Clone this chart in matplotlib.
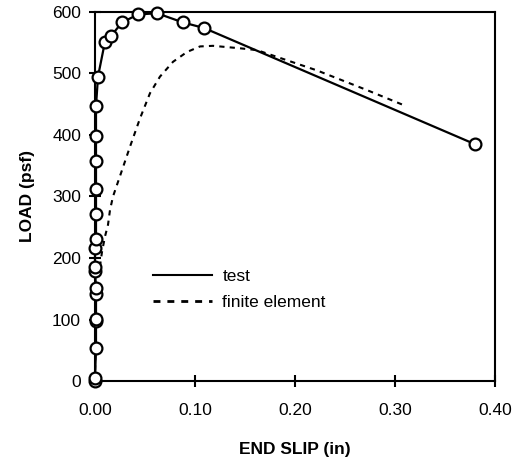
import numpy as np
import matplotlib
matplotlib.use("Agg")
import matplotlib.pyplot as plt
from matplotlib.lines import Line2D

plt.rcParams['font.family'] = ['Liberation Sans', 'DejaVu Sans']

# test data (end slip in, load psf)
test_slip = [0.000, 0.000, 0.001, 0.001, 0.001, 0.001, 0.001, 0.000, 0.000,
             0.000, 0.001, 0.001, 0.001, 0.001, 0.001, 0.001, 0.003, 0.010,
             0.016, 0.027, 0.043, 0.062, 0.088, 0.109, 0.380]
test_load = [0, 5, 53, 97, 101, 141, 152, 179, 186, 216, 231, 271, 312, 358,
             398, 447, 495, 552, 561, 583, 596, 598, 583, 574, 385]

# finite element curve
fe_slip = [0.000, 0.001, 0.003, 0.007, 0.010, 0.013, 0.015, 0.018, 0.026,
           0.035, 0.045, 0.055, 0.065, 0.078, 0.092, 0.105, 0.118, 0.145,
           0.162, 0.222, 0.272, 0.308]
fe_load = [0, 130, 164, 210, 235, 254, 278, 300, 338, 381, 427, 468, 495,
           519, 535, 544, 545, 541, 538, 505, 473, 449]

x_ticks = [0.0, 0.1, 0.2, 0.3, 0.4]
y_ticks = [0, 100, 200, 300, 400, 500, 600]

fig = plt.figure(figsize=(5.25, 4.63), dpi=100)
ax = fig.add_axes([95/525, 1-381/463, 400/525, 369/463])

ax.plot(fe_slip, fe_load, color='black', lw=1.5, dashes=(2.5, 2.5),
        zorder=2)
ax.plot(test_slip, test_load, color='black', lw=1.6, marker='o', ms=8.5,
        mfc='white', mec='black', mew=1.6, zorder=3, clip_on=False)

ax.set_xlim(0, 0.4)
ax.set_ylim(0, 600)
ax.set_xticks(x_ticks)
ax.set_xticklabels([f'{v:.2f}' for v in x_ticks])
ax.set_yticks(y_ticks)
ax.tick_params(direction='inout', length=8, width=1.5, labelsize=12.5)
ax.tick_params(axis='x', pad=12)
ax.tick_params(axis='y', pad=6)
for s in ax.spines.values():
    s.set_linewidth(1.5)

ax.set_xlabel('END SLIP (in)', fontsize=12.5, fontweight='bold', labelpad=17)
ax.set_ylabel('LOAD (psf)', fontsize=12.5, fontweight='bold', labelpad=12)

h1 = Line2D([], [], color='black', lw=1.5)
h2 = Line2D([], [], color='black', lw=2, dashes=(2.5, 2.5))
ax.legend([h1, h2], ['test', 'finite element'], frameon=False,
          loc='upper left', bbox_to_anchor=(0.145, 0.303), borderpad=0,
          borderaxespad=0, handlelength=3.4, handletextpad=0.6,
          labelspacing=0.6, fontsize=12.5)

fig.savefig('out.png', dpi=100)
